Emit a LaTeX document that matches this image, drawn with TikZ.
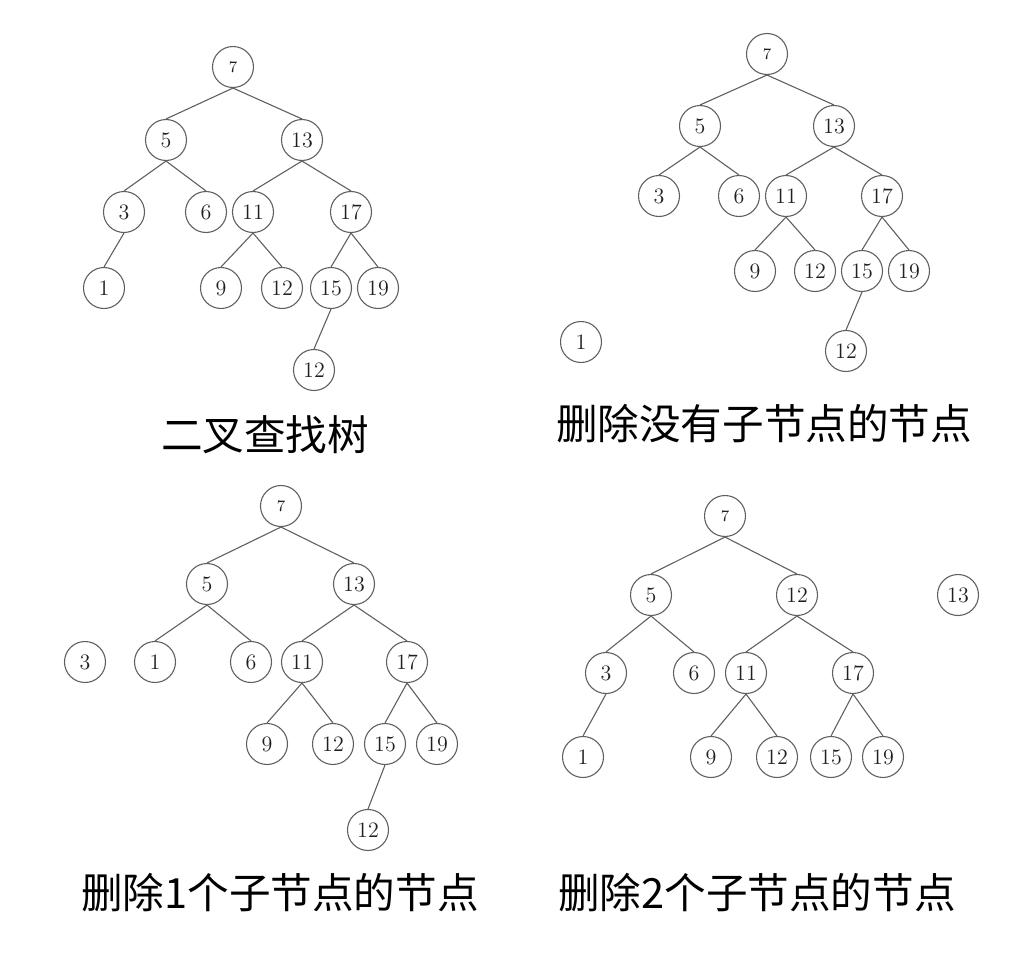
\documentclass[tikz,border=0pt]{standalone}
\usepackage{fontspec}
\usepackage{xcolor}
\usepackage{tikz}
\newfontfamily\cjk{Noto Sans CJK SC}
\definecolor{cLine}{HTML}{606060}
\definecolor{cText}{HTML}{202020}
\tikzset{
  key/.style={circle, draw=cLine, line width=0.55pt, minimum size=20.5pt, inner sep=0pt,
              text=cText, font=\fontsize{11}{12}\selectfont},
  rootkey/.style={key, font=\fontsize{8}{10}\selectfont},
  edge/.style={draw=cLine, line width=0.55pt},
  caption/.style={font=\cjk\fontsize{20.8}{24}\selectfont, text=black, inner sep=0pt},
}
\begin{document}
\begin{tikzpicture}[x=0.5pt,y=-0.5pt]
\useasboundingbox (0,0) rectangle (1024,980);
% binary search tree
\node[rootkey] (a7) at (233,67) {7};
\node[key] (a5) at (166,140) {5};
\node[key] (a13) at (302,140) {13};
\node[key] (a3) at (124,212) {3};
\node[key] (a6) at (206,212) {6};
\node[key] (a11) at (253,212) {11};
\node[key] (a17) at (351,212) {17};
\node[key] (a1) at (104,288) {1};
\node[key] (a9) at (221,288) {9};
\node[key] (a12) at (282,288) {12};
\node[key] (a15) at (331,288) {15};
\node[key] (a19) at (378,288) {19};
\node[key] (a12b) at (314,370) {12};
\draw[edge] (a7.south)--(a5.north); \draw[edge] (a7.south)--(a13.north);
\draw[edge] (a5.south)--(a3.north); \draw[edge] (a5.south)--(a6.north);
\draw[edge] (a13.south)--(a11.north); \draw[edge] (a13.south)--(a17.north);
\draw[edge] (a3.south)--(a1.north);
\draw[edge] (a11.south)--(a9.north); \draw[edge] (a11.south)--(a12.north);
\draw[edge] (a17.south)--(a15.north); \draw[edge] (a17.south)--(a19.north);
\draw[edge] (a15.south)--(a12b.north);
\node[caption] (capA) at (265,435) {二叉查找树};
% delete a leaf
\node[rootkey] (b7) at (767,54) {7};
\node[key] (b5) at (700,126) {5};
\node[key] (b13) at (834,126) {13};
\node[key] (b3) at (659,196) {3};
\node[key] (b6) at (739,196) {6};
\node[key] (b11) at (786,196) {11};
\node[key] (b17) at (882,196) {17};
\node[key] (b9) at (755,271) {9};
\node[key] (b12) at (815,271) {12};
\node[key] (b15) at (862,271) {15};
\node[key] (b19) at (909,271) {19};
\node[key] (b12b) at (846,351) {12};
\node[key] (b1) at (581,342) {1};
\draw[edge] (b7.south)--(b5.north); \draw[edge] (b7.south)--(b13.north);
\draw[edge] (b5.south)--(b3.north); \draw[edge] (b5.south)--(b6.north);
\draw[edge] (b13.south)--(b11.north); \draw[edge] (b13.south)--(b17.north);
\draw[edge] (b11.south)--(b9.north); \draw[edge] (b11.south)--(b12.north);
\draw[edge] (b17.south)--(b15.north); \draw[edge] (b17.south)--(b19.north);
\draw[edge] (b15.south)--(b12b.north);
\node[caption] (capB) at (764,424) {删除没有子节点的节点};
% delete a node with one child
\node[rootkey] (c7) at (281,506) {7};
\node[key] (c5) at (207,584) {5};
\node[key] (c13) at (354,584) {13};
\node[key] (c3) at (85,662) {3};
\node[key] (c1) at (155,662) {1};
\node[key] (c6) at (251,662) {6};
\node[key] (c11) at (302,662) {11};
\node[key] (c17) at (407,662) {17};
\node[key] (c9) at (267,744) {9};
\node[key] (c12) at (333,744) {12};
\node[key] (c15) at (385,744) {15};
\node[key] (c19) at (437,744) {19};
\node[key] (c12b) at (368,830) {12};
\draw[edge] (c7.south)--(c5.north); \draw[edge] (c7.south)--(c13.north);
\draw[edge] (c5.south)--(c1.north); \draw[edge] (c5.south)--(c6.north);
\draw[edge] (c13.south)--(c11.north); \draw[edge] (c13.south)--(c17.north);
\draw[edge] (c11.south)--(c9.north); \draw[edge] (c11.south)--(c12.north);
\draw[edge] (c17.south)--(c15.north); \draw[edge] (c17.south)--(c19.north);
\draw[edge] (c15.south)--(c12b.north);
\node[caption] (capC) at (280,893) {删除1个子节点的节点};
% delete a node with two children
\node[rootkey] (d7) at (725,516) {7};
\node[key] (d5) at (651,595) {5};
\node[key] (d12) at (797,595) {12};
\node[key] (d13) at (958,595) {13};
\node[key] (d3) at (606,673) {3};
\node[key] (d6) at (694,673) {6};
\node[key] (d11) at (746,673) {11};
\node[key] (d17) at (853,673) {17};
\node[key] (d1) at (583,757) {1};
\node[key] (d9) at (711,757) {9};
\node[key] (d12b) at (777,757) {12};
\node[key] (d15) at (831,757) {15};
\node[key] (d19) at (883,757) {19};
\draw[edge] (d7.south)--(d5.north); \draw[edge] (d7.south)--(d12.north);
\draw[edge] (d5.south)--(d3.north); \draw[edge] (d5.south)--(d6.north);
\draw[edge] (d12.south)--(d11.north); \draw[edge] (d12.south)--(d17.north);
\draw[edge] (d3.south)--(d1.north);
\draw[edge] (d11.south)--(d9.north); \draw[edge] (d11.south)--(d12b.north);
\draw[edge] (d17.south)--(d15.north); \draw[edge] (d17.south)--(d19.north);
\node[caption] (capD) at (757,893) {删除2个子节点的节点};
\end{tikzpicture}
\end{document}
